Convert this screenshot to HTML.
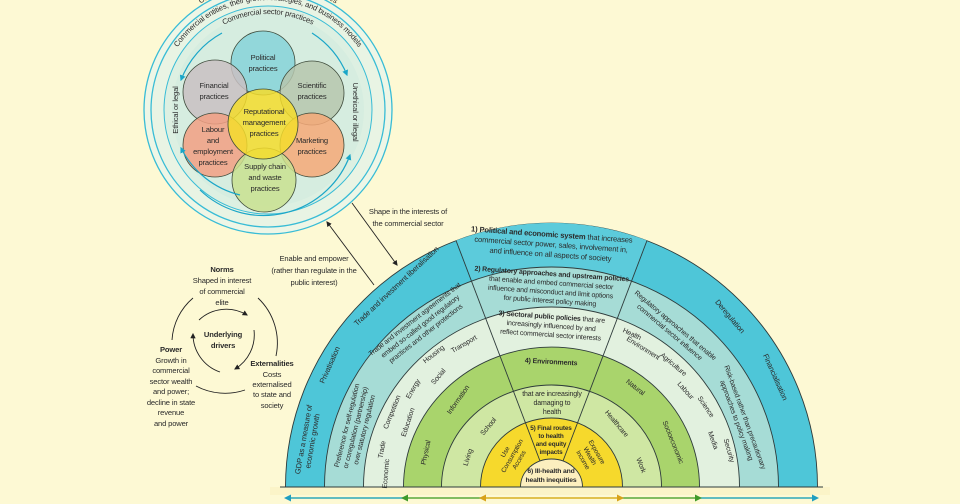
<!DOCTYPE html>
<html><head><meta charset="utf-8"><style>
html,body{margin:0;padding:0;background:#fdf9d4;}
svg{display:block;font-family:"Liberation Sans",sans-serif;}
text{fill:#2b2b2b;font-size:7.6px;letter-spacing:-0.15px;}
.b{font-weight:bold;}
.c{text-anchor:middle;}
.s{font-size:7px;}
</style></head><body>
<svg width="960" height="504" viewBox="0 0 960 504" xmlns="http://www.w3.org/2000/svg">
<defs>
<marker id="ah" viewBox="0 0 10 10" refX="8" refY="5" markerWidth="6" markerHeight="6" orient="auto-start-reverse"><path d="M0,0 L10,5 L0,10 z" fill="#222"/></marker>
<marker id="bh" viewBox="0 0 10 10" refX="8" refY="5" markerWidth="5" markerHeight="5" orient="auto-start-reverse"><path d="M0,0 L10,5 L0,10 z" fill="#1aa6c8"/></marker>
<path id="p1" d="M142,110 A126,126 0 0 1 394,110"/>
<path id="p2" d="M158,110 A110,110 0 0 1 378,110"/>
<path id="p3" d="M172,110 A96,96 0 0 1 364,110"/>
</defs>
<rect width="960" height="504" fill="#fdf9d4"/>

<!-- Top circle -->
<circle cx="268" cy="110" r="124" fill="#eef6e6" stroke="#38bcd6" stroke-width="1.3"/>
<circle cx="268" cy="110" r="117" fill="#e9f4e4" stroke="#38bcd6" stroke-width="1.3"/>
<circle cx="268" cy="110" r="104" fill="#ddf0e2" stroke="#38bcd6" stroke-width="1"/>
<circle cx="268" cy="110" r="96" fill="#d6ede0" stroke="none"/>
<g stroke="#3d4a3a" stroke-width="0.8" fill-opacity="0.85">
<circle cx="263" cy="63" r="32" fill="#86d2d8"/>
<circle cx="215" cy="92" r="32" fill="#c9bfc2"/>
<circle cx="312" cy="93" r="32" fill="#b6c6ad"/>
<circle cx="215" cy="145" r="32" fill="#f29f82"/>
<circle cx="312" cy="145" r="32" fill="#f6a877"/>
<circle cx="264" cy="180" r="32" fill="#c9e08f"/>
<circle cx="263" cy="124" r="35" fill="#f5dc2c"/>
</g>
<text class="c"><tspan x="263" y="60">Political</tspan><tspan x="263" y="71">practices</tspan></text>
<text class="c"><tspan x="214" y="88">Financial</tspan><tspan x="214" y="99">practices</tspan></text>
<text class="c"><tspan x="312" y="88">Scientific</tspan><tspan x="312" y="99">practices</tspan></text>
<text class="c"><tspan x="264" y="114">Reputational</tspan><tspan x="264" y="125">management</tspan><tspan x="264" y="136">practices</tspan></text>
<text class="c"><tspan x="213" y="132">Labour</tspan><tspan x="213" y="143">and</tspan><tspan x="213" y="154">employment</tspan><tspan x="213" y="165">practices</tspan></text>
<text class="c"><tspan x="312" y="143">Marketing</tspan><tspan x="312" y="154">practices</tspan></text>
<text class="c"><tspan x="265" y="169">Supply chain</tspan><tspan x="265" y="180">and waste</tspan><tspan x="265" y="191">practices</tspan></text>
<text><textPath href="#p1" startOffset="50%" text-anchor="middle">Commercial determinants of health activities</textPath></text>
<text><textPath href="#p2" startOffset="50%" text-anchor="middle">Commercial entities, their growth strategies, and business models</textPath></text>
<text><textPath href="#p3" startOffset="50%" text-anchor="middle">Commercial sector practices</textPath></text>
<text class="c" transform="translate(178,110) rotate(-90)">Ethical or legal</text>
<text class="c" transform="translate(353,112) rotate(90)">Unethical or illegal</text>
<g fill="none" stroke="#1aa6c8" stroke-width="1.2">
<path d="M312,33 A90,90 0 0 1 347,75" marker-end="url(#bh)"/>
<path d="M222,33 A90,90 0 0 0 181,80" marker-end="url(#bh)"/>
<path d="M240,195 A90,90 0 0 1 181,148" marker-end="url(#bh)"/>
<path d="M200,190 A92,92 0 0 0 350,155" marker-end="url(#bh)"/>
</g>

<!-- connector arrows -->
<line x1="374" y1="285" x2="327" y2="222" stroke="#222" stroke-width="0.9" marker-end="url(#ah)"/>
<line x1="352" y1="203" x2="397" y2="265" stroke="#222" stroke-width="0.9" marker-end="url(#ah)"/>
<text class="c"><tspan x="408" y="214">Shape in the interests of</tspan><tspan x="408" y="226">the commercial sector</tspan></text>
<text class="c"><tspan x="314" y="261">Enable and empower</tspan><tspan x="314" y="273">(rather than regulate in the</tspan><tspan x="314" y="285">public interest)</tspan></text>

<!-- cycle -->
<text class="c"><tspan class="b" x="222" y="272">Norms</tspan><tspan x="222" y="283">Shaped in interest</tspan><tspan x="222" y="294">of commercial</tspan><tspan x="222" y="305">elite</tspan></text>
<text class="c b"><tspan x="223" y="337">Underlying</tspan><tspan x="223" y="348">drivers</tspan></text>
<text class="c"><tspan class="b" x="171" y="352">Power</tspan><tspan x="171" y="363">Growth in</tspan><tspan x="171" y="373">commercial</tspan><tspan x="171" y="384">sector wealth</tspan><tspan x="171" y="394">and power;</tspan><tspan x="171" y="405">decline in state</tspan><tspan x="171" y="415">revenue</tspan><tspan x="171" y="426">and power</tspan></text>
<text class="c"><tspan class="b" x="272" y="366">Externalities</tspan><tspan x="272" y="377">Costs</tspan><tspan x="272" y="387">externalised</tspan><tspan x="272" y="397">to state and</tspan><tspan x="272" y="408">society</tspan></text>
<g fill="none" stroke="#222" stroke-width="0.9">
<path d="M199,320 A40,40 0 0 1 247,315" marker-end="url(#ah)"/>
<path d="M254,330 A40,40 0 0 1 235,369" marker-end="url(#ah)"/>
<path d="M220,372 A40,40 0 0 1 193,334" marker-end="url(#ah)"/>
<path d="M172,340 A60,60 0 0 1 193,298"/>
<path d="M258,298 A62,62 0 0 1 276,356"/>
<path d="M196,386 A62,62 0 0 0 245,390"/>
</g>

<!-- semicircle -->
<rect x="270" y="487" width="560" height="8" fill="#fbf4c8"/>
<g stroke="#2e3b3b" stroke-width="0.9">
<path d="M285.5,487 A266,264 0 0 1 817.5,487 Z" fill="#4ec6d8"/>
<path d="M456,240.5 A266,264 0 0 1 647,240.5 L551.5,487 Z" fill="#5ccbdb" stroke="none"/>
<path d="M324.5,487 A227,220 0 0 1 778.5,487 Z" fill="#a6dcd6"/>
<path d="M363.5,487 A188,180 0 0 1 739.5,487 Z" fill="#e2f1df"/>
<path d="M403.5,487 A148,140 0 0 1 699.5,487 Z" fill="#a9d46c"/>
<path d="M441.5,487 A110,102 0 0 1 661.5,487 Z" fill="#cfe7a3"/>
<path d="M480.5,487 A71,69 0 0 1 622.5,487 Z" fill="#f6d92c"/>
<path d="M520.5,487 A31,28 0 0 1 582.5,487 Z" fill="#fcefbf"/>
<line x1="456" y1="240.5" x2="540" y2="461" fill="none"/>
<line x1="647" y1="240.5" x2="563" y2="461" fill="none"/>
<line x1="280" y1="487" x2="823" y2="487"/>
</g>

<!-- ring 1 -->
<text class="c" transform="translate(306,440) rotate(-80)"><tspan x="0" y="0">GDP as a measure of</tspan><tspan x="0" y="9">economic growth</tspan></text>
<text class="c" transform="translate(332,366) rotate(-66)">Privatisation</text>
<text class="c" transform="translate(398,288) rotate(-43)">Trade and investment liberalisation</text>
<g transform="rotate(4 551 246)">
<text class="c"><tspan x="551" y="237"><tspan class="b">1) Political and economic system</tspan> that increases</tspan><tspan x="551" y="247">commercial sector power, sales, involvement in,</tspan><tspan x="551" y="257">and influence on all aspects of society</tspan></text>
</g>
<text class="c" transform="translate(728,318) rotate(50)">Deregulation</text>
<text class="c" transform="translate(773,378) rotate(66)">Financialisation</text>
<!-- ring 2 -->
<text class="c s" transform="translate(349,426) rotate(-76)"><tspan x="0" y="0">Preference for self-regulation</tspan><tspan x="0" y="9">or coregulation (partnership)</tspan><tspan x="0" y="18">over statutory regulation</tspan></text>
<text class="c s" transform="translate(416,321) rotate(-38)"><tspan x="0" y="0">Trade and investment agreements that</tspan><tspan x="0" y="9">embed so-called good regulatory</tspan><tspan x="0" y="18">practices and other protections</tspan></text>
<g transform="rotate(4 551 285)">
<text class="c s"><tspan x="551" y="276"><tspan class="b">2) Regulatory approaches and upstream policies</tspan></tspan><tspan x="551" y="285">that enable and embed commercial sector</tspan><tspan x="551" y="294">influence and misconduct and limit options</tspan><tspan x="551" y="303">for public interest policy making</tspan></text>
</g>
<text class="c s" transform="translate(674,327) rotate(40)"><tspan x="0" y="0">Regulatory approaches that enable</tspan><tspan x="0" y="9">commercial sector influence</tspan></text>
<text class="c s" transform="translate(743,418) rotate(70)"><tspan x="0" y="0">Risk-based rather than precautionary</tspan><tspan x="0" y="9">approaches to policy making</tspan></text>
<!-- ring 3 -->
<text class="c s" transform="translate(384,450) rotate(-80)">Trade</text>
<text class="c s" transform="translate(388,474) rotate(-85)">Economic</text>
<text class="c s" transform="translate(394,413) rotate(-68)">Competition</text>
<text class="c s" transform="translate(410,423) rotate(-72)">Education</text>
<text class="c s" transform="translate(415,390) rotate(-60)">Energy</text>
<text class="c s" transform="translate(440,378) rotate(-50)">Social</text>
<text class="c s" transform="translate(435,356) rotate(-38)">Housing</text>
<text class="c s" transform="translate(465,346) rotate(-30)">Transport</text>
<g transform="rotate(4 551 328)">
<text class="c s"><tspan x="551" y="319"><tspan class="b">3) Sectoral public policies</tspan> that are</tspan><tspan x="551" y="328">increasingly influenced by and</tspan><tspan x="551" y="337">reflect commercial sector interests</tspan></text>
</g>
<text class="c s" transform="translate(631,336) rotate(25)">Health</text>
<text class="c s" transform="translate(642,350) rotate(32)">Environment</text>
<text class="c s" transform="translate(672,366) rotate(40)">Agriculture</text>
<text class="c s" transform="translate(684,392) rotate(48)">Labour</text>
<text class="c s" transform="translate(704,408) rotate(56)">Science</text>
<text class="c s" transform="translate(711,441) rotate(70)">Media</text>
<text class="c s" transform="translate(727,451) rotate(74)">Security</text>
<!-- ring 4 -->
<text class="c s" transform="translate(428,453) rotate(-78)">Physical</text>
<text class="c s" transform="translate(460,401) rotate(-55)">Information</text>
<text class="c b s" transform="translate(551,364) rotate(3)">4) Environments</text>
<text class="c s" transform="translate(634,389) rotate(38)">Natural</text>
<text class="c s" transform="translate(671,443) rotate(68)">Socioeconomic</text>
<!-- ring 5 -->
<text class="c s" transform="translate(470,458) rotate(-72)">Living</text>
<text class="c s" transform="translate(490,428) rotate(-50)">School</text>
<text class="c s"><tspan x="552" y="396">that are increasingly</tspan><tspan x="552" y="405">damaging to</tspan><tspan x="552" y="414">health</tspan></text>
<text class="c s" transform="translate(615,425) rotate(50)">Healthcare</text>
<text class="c s" transform="translate(639,466) rotate(68)">Work</text>
<!-- ring 6 -->
<text class="c" transform="translate(507,453) rotate(-60)" style="font-size:6.6px"><tspan x="0" y="0">Use</tspan><tspan x="0" y="8">Consumption</tspan><tspan x="0" y="16">Access</tspan></text>
<text class="c b" style="font-size:6.4px"><tspan x="551" y="430">5) Final routes</tspan><tspan x="551" y="438">to health</tspan><tspan x="551" y="446">and equity</tspan><tspan x="551" y="454">impacts</tspan></text>
<text class="c" transform="translate(595,453) rotate(60)" style="font-size:6.6px"><tspan x="0" y="0">Exposure</tspan><tspan x="0" y="8">Wealth</tspan><tspan x="0" y="16">Income</tspan></text>
<text class="c b" style="font-size:6.8px"><tspan x="551" y="473">6) Ill-health and</tspan><tspan x="551" y="482">health inequities</tspan></text>

<!-- bottom axis -->
<g stroke-width="1.4">
<line x1="287" y1="498" x2="403" y2="498" stroke="#2fa8b8"/>
<line x1="403" y1="498" x2="481" y2="498" stroke="#5aa83a"/>
<line x1="481" y1="498" x2="622" y2="498" stroke="#d8b020"/>
<line x1="622" y1="498" x2="700" y2="498" stroke="#5aa83a"/>
<line x1="700" y1="498" x2="816" y2="498" stroke="#2fa8b8"/>
</g>
<path d="M284,498 l7,-3.5 v7 z" fill="#1f9ec0"/>
<path d="M401,498 l7,-3.5 v7 z" fill="#3f9a2a"/>
<path d="M479,498 l7,-3.5 v7 z" fill="#d8a21a"/>
<path d="M624,498 l-7,-3.5 v7 z" fill="#d8a21a"/>
<path d="M702,498 l-7,-3.5 v7 z" fill="#3f9a2a"/>
<path d="M819,498 l-7,-3.5 v7 z" fill="#1f9ec0"/>
</svg>
</body></html>
